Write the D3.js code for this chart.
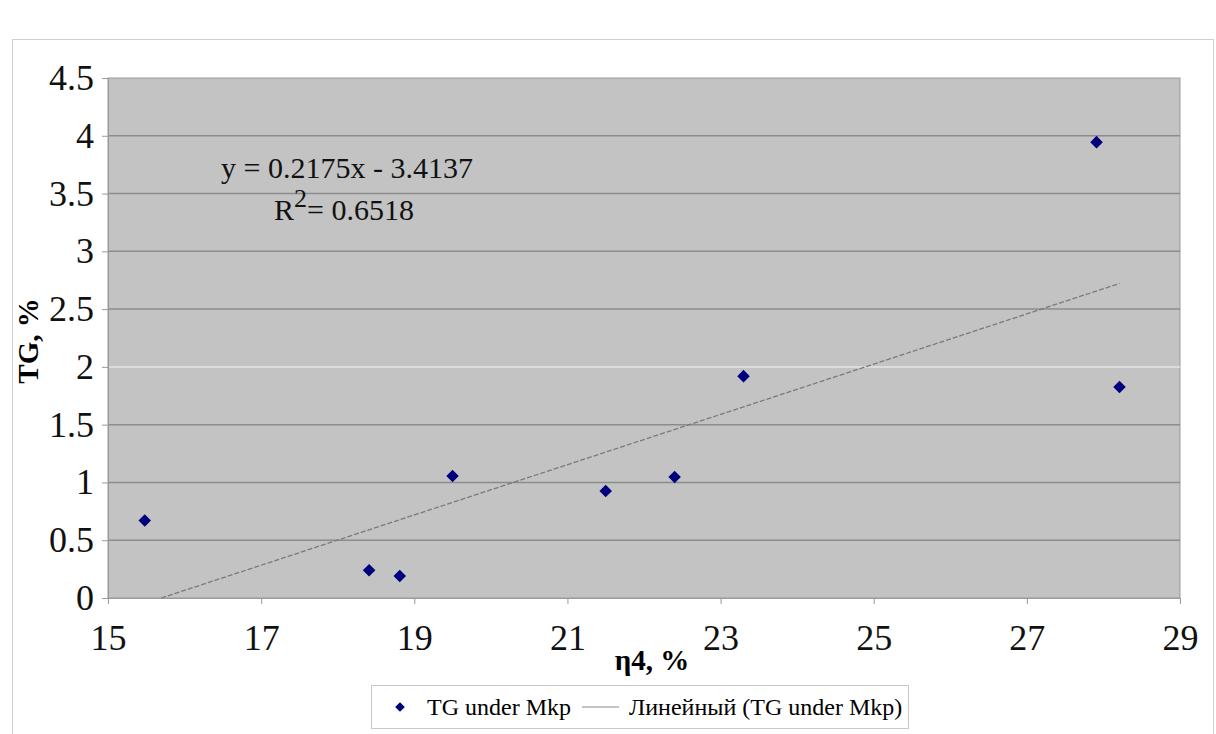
<!DOCTYPE html>
<html>
<head>
<meta charset="utf-8">
<script src="https://cdn.jsdelivr.net/npm/d3@7"></script>
<style>
  body { margin: 0; background: #fff; }
</style>
</head>
<body>
<div id="chart"></div>
<script>
// values
var eta4 = [15.48, 18.41, 18.81, 19.5, 21.5, 22.4, 23.3, 27.91, 28.21];
var tg = [0.67, 0.24, 0.19, 1.055, 0.925, 1.047, 1.92, 3.945, 1.825];
var xTicks = [15, 17, 19, 21, 23, 25, 27, 29];
var yTicks = [0, 0.5, 1, 1.5, 2, 2.5, 3, 3.5, 4, 4.5];
var slope = 0.2175, intercept = -3.4137;

function main() {
    const W = 1216, H = 734;
    const pLeft = 108, pRight = 1180, pTop = 78, pBottom = 598;
    const serif = "'Liberation Serif', 'DejaVu Serif', serif";

    var svg = d3.select("#chart").append("svg")
        .attr("width", W)
        .attr("height", H)
        .attr("font-family", serif)

    // chart frame
    svg.append("rect")
        .attr("x", 12.5).attr("y", 39.5)
        .attr("width", 1201).attr("height", 700)
        .style("fill", "white")
        .style("stroke", "#d0d0d0")

    var x = d3.scaleLinear().domain([15, 29]).range([pLeft, pRight]);
    var y = d3.scaleLinear().domain([0, 4.5]).range([pBottom, pTop]);

    svg.append("rect")
        .attr("x", pLeft).attr("y", pTop)
        .attr("width", pRight - pLeft).attr("height", pBottom - pTop)
        .style("fill", "#c3c3c3")
        .style("stroke", "#9a9a9a")

    // gridlines
    svg.selectAll(".grid")
        .data(yTicks.filter(function (d) { return d > 0 && d < 4.5; }))
        .enter()
        .append("line")
        .attr("x1", pLeft).attr("x2", pRight)
        .attr("y1", function (d) { return y(d); })
        .attr("y2", function (d) { return y(d); })
        .style("stroke", function (d) { return d === 2 ? "#e4e4e4" : "#8c8c8c"; })
        .style("stroke-width", 1.5)

    var xAxis = d3.axisBottom(x).tickValues(xTicks).tickSize(6).tickPadding(20).tickFormat(function (d) { return d; });
    var gx = svg.append("g").attr("transform", "translate(0," + pBottom + ")").call(xAxis);
    gx.attr("font-family", serif)
    gx.select(".domain").style("stroke", "#9a9a9a")
    gx.selectAll(".tick line").style("stroke", "#9a9a9a")
    gx.selectAll("text").style("font-size", "36px").style("fill", "#111").style("font-family", serif)

    var yAxis = d3.axisLeft(y).tickValues(yTicks).tickSize(6).tickPadding(8).tickFormat(function (d) { return d; });
    var gy = svg.append("g").attr("transform", "translate(" + pLeft + ",0)").call(yAxis);
    gy.attr("font-family", serif)
    gy.select(".domain").style("stroke", "#9a9a9a")
    gy.selectAll(".tick line").style("stroke", "#9a9a9a")
    gy.selectAll("text").style("font-size", "36px").style("fill", "#111").style("font-family", serif)

    // trend line
    var x0 = -intercept / slope, x1 = d3.max(eta4);
    svg.append("line")
        .attr("x1", x(x0)).attr("y1", y(slope * x0 + intercept))
        .attr("x2", x(x1)).attr("y2", y(slope * x1 + intercept))
        .style("stroke", "#7a7a7a")
        .style("stroke-width", 1.3)
        .style("stroke-dasharray", "5,2")

    // points
    var diamond = d3.symbol().type(d3.symbolDiamond2).size(100);
    svg.selectAll(".pt")
        .data(eta4)
        .enter()
        .append("path")
        .attr("d", diamond)
        .attr("transform", function (d, i) { return "translate(" + x(d) + "," + y(tg[i]) + ")"; })
        .style("fill", "#00007f")

    // equation
    svg.append("text")
        .attr("x", 347).attr("y", 178)
        .attr("text-anchor", "middle")
        .style("font-size", "30px")
        .style("font-family", serif)
        .style("fill", "#111")
        .text("y = 0.2175x - 3.4137")
    var r2 = svg.append("text")
        .attr("x", 274).attr("y", 220)
        .style("font-size", "30px")
        .style("font-family", serif)
        .style("fill", "#111")
    r2.append("tspan").text("R")
    r2.append("tspan").attr("dy", -13).style("font-size", "26px").text("2")
    r2.append("tspan").attr("dy", 13).text("= 0.6518")

    // axis titles
    svg.append("text")
        .attr("transform", "translate(38,341) rotate(-90)")
        .attr("text-anchor", "middle")
        .style("font-size", "29px")
        .style("font-family", serif)
        .style("font-weight", "bold")
        .text("TG, %")
    svg.append("text")
        .attr("x", 652).attr("y", 670)
        .attr("text-anchor", "middle")
        .style("font-size", "29px")
        .style("font-family", serif)
        .style("font-weight", "bold")
        .text("η4, %")

    // legend
    var lg = svg.append("g")
    lg.append("rect")
        .attr("x", 371.5).attr("y", 685.5)
        .attr("width", 537).attr("height", 43)
        .style("fill", "white")
        .style("stroke", "#c8c8c8")
    lg.append("path")
        .attr("d", d3.symbol().type(d3.symbolDiamond2).size(60))
        .attr("transform", "translate(400,707)")
        .style("fill", "#00007f")
    lg.append("text")
        .attr("x", 427).attr("y", 715)
        .style("font-size", "24px")
        .style("font-family", serif)
        .text("TG under Mkp")
    lg.append("line")
        .attr("x1", 582).attr("x2", 619)
        .attr("y1", 707).attr("y2", 707)
        .style("stroke", "#8a8a8a")
    lg.append("text")
        .attr("x", 629).attr("y", 715)
        .style("font-size", "24px")
        .style("font-family", serif)
        .text("Линейный (TG under Mkp)")
}
main();
</script>
</body>
</html>
